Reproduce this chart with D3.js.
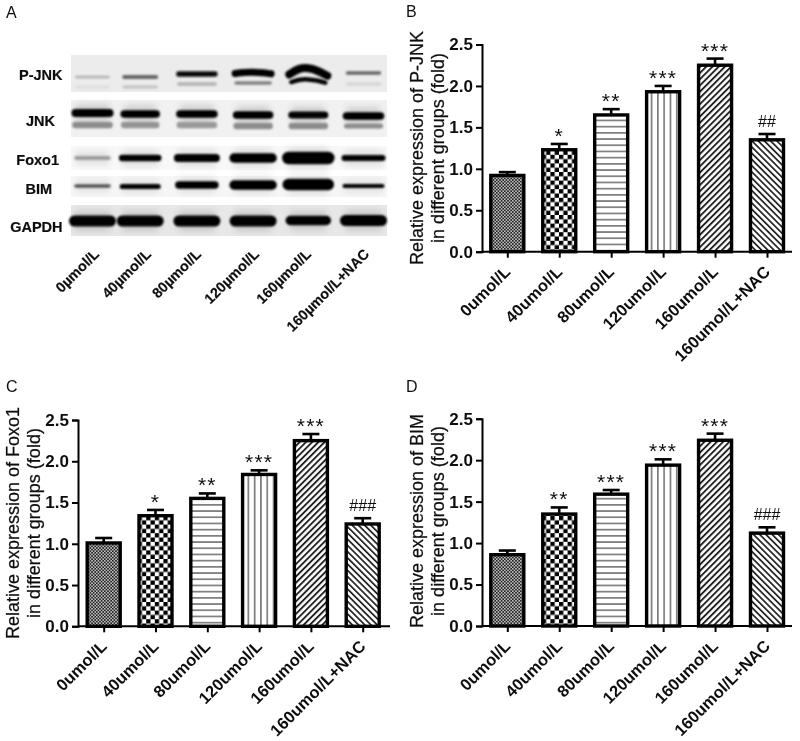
<!DOCTYPE html>
<html><head><meta charset="utf-8">
<script src="https://cdn.jsdelivr.net/npm/d3@7/dist/d3.min.js"></script>
<style>html,body{margin:0;padding:0;background:#fff}svg{display:block}text{font-family:"Liberation Sans",Arial,sans-serif;fill:#111}</style>
</head><body><div id="chart"></div>
<script>
// ---------- data ----------
const categories = ["0umol/L","40umol/L","80umol/L","120umol/L","160umol/L","160umol/L+NAC"];
const blotLanes = ["0µmol/L","40µmol/L","80µmol/L","120µmol/L","160µmol/L","160µmol/L+NAC"];
const yTicks = [0,0.5,1,1.5,2,2.5];

const pjnkValues = [0.92,1.23,1.65,1.93,2.25,1.35];
const pjnkErrors = [0.04,0.07,0.07,0.07,0.08,0.07];
const pjnkMarks  = ["","*","**","***","***","##"];

const foxo1Values = [1.01,1.34,1.55,1.84,2.25,1.24];
const foxo1Errors = [0.06,0.07,0.06,0.05,0.08,0.07];
const foxo1Marks  = ["","*","**","***","***","###"];

const bimValues = [0.86,1.35,1.59,1.94,2.24,1.12];
const bimErrors = [0.05,0.08,0.05,0.07,0.08,0.07];
const bimMarks  = ["","**","***","***","***","###"];

// western blot band densities (0-1) per lane
const blotPjnkUpper = [0.28,0.6,0.95,1,1,0.6];
const blotPjnkLower = [0.13,0.22,0.28,0.5,1,0.16];
const blotJnkUpper  = [1,1,1,1,1,1];
const blotJnkLower  = [0.45,0.42,0.4,0.45,0.45,0.45];
const blotFoxo1     = [0.42,1,1,1,1,1];
const blotBim       = [0.68,1,1,1,1,1];
const blotGapdh     = [1,1,1,1,1,1];

// ---------- drawing ----------
const svg = d3.select("#chart").append("svg").attr("width",800).attr("height",741);
const defs = svg.append("defs");
[["soft",0.38],["b1",1.1],["b2",3]].forEach(([id,s])=>defs.append("filter").attr("id",id)
  .attr("filterUnits","userSpaceOnUse").attr("x",0).attr("y",0).attr("width",800).attr("height",741)
  .append("feGaussianBlur").attr("stdDeviation",s));

function pat(id,size,draw,rot){
  const p = defs.append("pattern").attr("id",id).attr("patternUnits","userSpaceOnUse")
    .attr("width",size).attr("height",size);
  if(rot) p.attr("patternTransform",`rotate(${rot})`);
  p.append("rect").attr("width",size).attr("height",size).attr("fill","#fff");
  draw(p,size);
}
pat("p0",3.2,(p,s)=>{p.append("rect").attr("width",s).attr("height",s).attr("fill","#bdbdbd");
  p.append("rect").attr("width",s/2).attr("height",s/2).attr("fill","#222");
  p.append("rect").attr("x",s/2).attr("y",s/2).attr("width",s/2).attr("height",s/2).attr("fill","#222");});
pat("p1",8.6,(p,s)=>{p.append("rect").attr("width",s/2).attr("height",s/2).attr("fill","#000");
  p.append("rect").attr("x",s/2).attr("y",s/2).attr("width",s/2).attr("height",s/2).attr("fill","#000");});
pat("p2",6.2,(p,s)=>p.append("rect").attr("y",2).attr("width",s).attr("height",1.3).attr("fill","#555"));
pat("p3",6.3,(p,s)=>p.append("rect").attr("x",2).attr("width",1.3).attr("height",s).attr("fill","#555"));
pat("p4",4.4,(p,s)=>p.append("rect").attr("width",1.9).attr("height",s).attr("fill","#222"),45);
pat("p5",4.4,(p,s)=>p.append("rect").attr("width",1.7).attr("height",s).attr("fill","#222"),-45);

const root = svg.append("g").attr("filter","url(#soft)");

// panel letters
[["A",6,18],["B",406,17],["C",6,392],["D",406,392]].forEach(([t,x,y])=>
  root.append("text").attr("x",x).attr("y",y).attr("font-size",16).text(t));

// bar panels
function barPanel(o){
  const g = root.append("g");
  const y = d3.scaleLinear().domain([0,2.5]).range([o.y0,o.y1]);
  const x = d3.scalePoint().domain(categories).range([o.c0,o.c1]);
  const barW = 33;
  const row = g.selectAll(".bar").data(categories).join("g");
  row.append("line").attr("x1",d=>x(d)).attr("x2",d=>x(d))
     .attr("y1",(d,i)=>y(o.values[i])).attr("y2",(d,i)=>y(o.values[i]+o.errors[i]))
     .attr("stroke","#000").attr("stroke-width",2.6);
  row.append("line").attr("x1",d=>x(d)-8.5).attr("x2",d=>x(d)+8.5)
     .attr("y1",(d,i)=>y(o.values[i]+o.errors[i])).attr("y2",(d,i)=>y(o.values[i]+o.errors[i]))
     .attr("stroke","#000").attr("stroke-width",2.6);
  row.append("rect").attr("x",d=>x(d)-barW/2).attr("width",barW)
     .attr("y",(d,i)=>y(o.values[i])).attr("height",(d,i)=>o.y0-y(o.values[i]))
     .attr("fill",(d,i)=>`url(#p${i})`).attr("stroke","#000").attr("stroke-width",3.4);
  row.append("text").attr("text-anchor","middle").attr("x",d=>x(d))
     .attr("y",(d,i)=>y(o.values[i]+o.errors[i])+(o.marks[i][0]==="#"?-7:-1))
     .attr("font-size",(d,i)=>o.marks[i][0]==="#"?16:21)
     .attr("letter-spacing",(d,i)=>o.marks[i][0]==="#"?0:1.2)
     .text((d,i)=>o.marks[i]);

  const ya = d3.axisLeft(y).tickValues(yTicks).tickFormat(d3.format(".1f")).tickSize(6).tickPadding(3);
  const yg = g.append("g").attr("transform",`translate(${o.ax},0)`).call(ya);
  yg.select(".domain").attr("stroke","#000").attr("stroke-width",2);
  yg.selectAll(".tick line").attr("stroke","#000").attr("stroke-width",2);
  yg.selectAll(".tick text").attr("font-size",17).attr("font-weight","bold").attr("font-family",null).style("fill","#111");

  const xa = d3.axisBottom(x).tickSize(6).tickPadding(3);
  const xg = g.append("g").attr("transform",`translate(0,${o.y0})`).call(xa);
  xg.select(".domain").attr("d",`M${o.ax},0H${o.xEnd}`).attr("stroke","#000").attr("stroke-width",2);
  xg.selectAll(".tick line").attr("stroke","#000").attr("stroke-width",2);
  xg.selectAll(".tick text").attr("font-size",16.5).attr("font-weight","bold").attr("text-anchor","end")
    .attr("font-family",null).style("fill","#111")
    .attr("transform","translate(-6.5,11) rotate(-45)").attr("dy","0.5em").attr("y",6);

  const t = g.append("text").attr("transform",`translate(${o.tx},${o.tyc}) rotate(-90)`)
     .attr("text-anchor","middle").attr("font-size",o.tfs).attr("stroke","#111").attr("stroke-width",0.25);
  t.append("tspan").attr("x",0).attr("dy",0).text(o.title[0]);
  t.append("tspan").attr("x",0).attr("dy",o.tgap).text(o.title[1]);
}
barPanel({values:pjnkValues,errors:pjnkErrors,marks:pjnkMarks,ax:482,xEnd:792,y0:251.7,y1:44.5,c0:507.3,c1:767,
  title:["Relative expression of P-JNK","in different groups (fold)"],tx:423,tyc:148,tgap:21,tfs:18});
barPanel({values:foxo1Values,errors:foxo1Errors,marks:foxo1Marks,ax:78,xEnd:390,y0:626.3,y1:420,c0:103.7,c1:362.7,
  title:["Relative expression of Foxo1","in different groups (fold)"],tx:19,tyc:523,tgap:21,tfs:18});
barPanel({values:bimValues,errors:bimErrors,marks:bimMarks,ax:482,xEnd:792,y0:626,y1:418.7,c0:507.3,c1:767,
  title:["Relative expression of BIM","in different groups (fold)"],tx:423,tyc:521,tgap:21,tfs:18});

// blot panel
const laneBase = d3.scalePoint().domain(blotLanes).range([92.5,363.5]);
const laneShift = [0,-6.5,-4,-2,-1,0];
const labelShift = [7.5,5.3,1.1,4.9,2.7,6.5];
const laneX = d => laneBase(d)+laneShift[blotLanes.indexOf(d)];
const density = d3.scaleLinear().domain([0,1]).range(["#ffffff","#000000"]);
const curve = d3.line().x(d=>d[0]).y(d=>d[1]).curve(d3.curveBasis);
const blot = root.append("g");
const rows = [
  {label:"P-JNK",tx:62.5,ty:80,top:55,bot:92,bg:"#ececec"},
  {label:"JNK",tx:55,ty:126,top:100,bot:137,bg:"#f1f1f1"},
  {label:"Foxo1",tx:59,ty:165,top:146,bot:170,bg:"#f8f8f8"},
  {label:"BIM",tx:52,ty:194,top:176,bot:197,bg:"#f6f6f6"},
  {label:"GAPDH",tx:62.5,ty:232,top:205,bot:236,bg:"#e7e7e7"}];
blot.selectAll("rect.bg").data(rows).join("rect").attr("x",71).attr("width",316)
  .attr("y",d=>d.top).attr("height",d=>d.bot-d.top).attr("fill",d=>d.bg);
blot.selectAll("text.rowl").data(rows).join("text").attr("text-anchor","end").attr("x",d=>d.tx)
  .attr("y",d=>d.ty).attr("font-size",14.5).attr("font-weight","bold").attr("stroke","#111").attr("stroke-width",0.2).text(d=>d.label);

const bandSets = [
  {lv:blotPjnkUpper,y:[77,77,74,73,72,73],th:[3,4,5.5,7,8,3.5],w:[32,32,36,36,38,32],arch:[0,0,0,1.5,7,0]},
  {lv:blotPjnkLower,y:[87,87,84,83,81,84],th:[3,3.5,4,3.5,4.5,3.5],w:[32,32,36,34,34,32],arch:[0,0,0,0,3,0]},
  {lv:blotJnkUpper,y:[113,114,114,115,115,116],th:[8,7.5,7.5,7.5,7,7.5],w:[34,32,34,33,33,34],arch:[0,0,0,0,0,0],halo:.14},
  {lv:blotJnkLower,y:[125,125,125,126,126,126],th:[6.5,6.5,6.5,6.5,6.5,5],w:[34,32,34,33,33,34],arch:[0,0,0,0,0,0]},
  {lv:blotFoxo1,y:[158,158,158,158,158,158],th:[3.5,6.5,8,9.5,12.5,6],w:[33,36,38,38,40,38],arch:[0,0,0,0,0,0],halo:.09},
  {lv:blotBim,y:[186,186.5,185,185,184.5,186],th:[3.5,5,7.5,9.5,11.5,4],w:[33,36,36,38,40,38],arch:[0,0,0,0,0,0],halo:.07},
  {lv:blotGapdh,y:[221,221,221,221,220.5,220.5],th:[11,11,11,11,9.5,11],w:[36,36,36,36,36,36],arch:[0,0,0,0,0,0],halo:.12}
];
const bands = bandSets.flatMap(s=>blotLanes.map((l,i)=>({l,v:s.lv[i],y:s.y[i],th:s.th[i],w:s.w[i],a:s.arch[i],halo:s.halo})));
const bandPath = d=>{const x=laneX(d.l),h=d.w/2;
  return curve([[x-h,d.y+d.a*.35],[x-h*.5,d.y-d.a*.55],[x,d.y-d.a*.6],[x+h*.5,d.y-d.a*.2],[x+h,d.y+d.a*.55]]);};
blot.selectAll("path.halo").data(bands.filter(d=>d.halo)).join("path").attr("d",bandPath).attr("fill","none")
  .attr("stroke","#000").attr("stroke-opacity",d=>d.halo).attr("stroke-width",d=>d.th+10).attr("filter","url(#b2)");
blot.selectAll("path.band").data(bands).join("path").attr("d",bandPath).attr("fill","none")
  .attr("stroke",d=>density(d.v)).attr("stroke-width",d=>d.th).attr("stroke-linecap","round")
  .attr("filter","url(#b1)");

blot.selectAll("text.lane").data(blotLanes).join("text")
  .attr("text-anchor","end").attr("font-size",14.3).attr("font-weight","bold").attr("stroke","#111").attr("stroke-width",0.2)
  .attr("transform",(d,i)=>`translate(${laneBase(d)+labelShift[i]},255) rotate(-45)`).text(d=>d);
</script></body></html>
